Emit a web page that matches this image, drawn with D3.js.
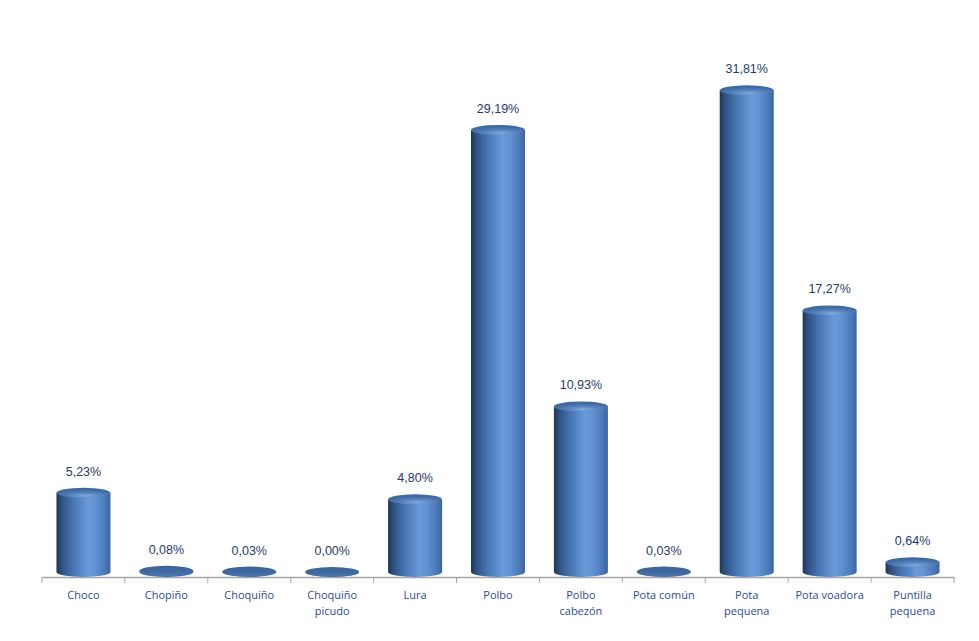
<!DOCTYPE html>
<html><head><meta charset="utf-8">
<script src="https://cdn.jsdelivr.net/npm/d3@7"></script>
<style>html,body{margin:0;padding:0;background:#fff;}svg{display:block;}</style>
</head><body>
<script>
const categories = ["Choco","Chopiño","Choquiño","Choquiño picudo","Lura","Polbo","Polbo cabezón","Pota común","Pota pequena","Pota voadora","Puntilla pequena"];
const values = [5.23, 0.08, 0.03, 0.00, 4.80, 29.19, 10.93, 0.03, 31.81, 17.27, 0.64];
const valueLabels = ["5,23%","0,08%","0,03%","0,00%","4,80%","29,19%","10,93%","0,03%","31,81%","17,27%","0,64%"];
const wrapped = [false,false,false,true,false,false,true,false,true,false,true];
const yDomain = [0, 35];

const W = 979, H = 641;
const svg = d3.select("body").append("svg").attr("width", W).attr("height", H);
const defs = svg.append("defs");

const bodyGrad = defs.append("linearGradient").attr("id","body").attr("x1","0").attr("x2","1").attr("y1","0").attr("y2","0");
[[0,"#1e3659"],[0.1,"#2f5283"],[0.3,"#4774b2"],[0.58,"#6a9ad9"],[0.72,"#6192d4"],[0.9,"#4b78b8"],[1,"#3a64a0"]]
  .forEach(([o,c])=>bodyGrad.append("stop").attr("offset",o).attr("stop-color",c));
const topGrad = defs.append("radialGradient").attr("id","topg").attr("cx","0.55").attr("cy","0.8").attr("r","0.6");
[[0,"#82aae0"],[0.45,"#5a86c2"],[1,"#40699f"]].forEach(([o,c])=>topGrad.append("stop").attr("offset",o).attr("stop-color",c));
const diskGrad = defs.append("linearGradient").attr("id","disk").attr("x1","0").attr("x2","0").attr("y1","0").attr("y2","1");
[[0,"#3d6499"],[0.6,"#40699f"],[1,"#4c79ba"]].forEach(([o,c])=>diskGrad.append("stop").attr("offset",o).attr("stop-color",c));

const x = d3.scaleBand().domain(categories).range([42, 954]).paddingInner(0).paddingOuter(0);
const y = d3.scaleLinear().domain(yDomain).range([572, 42]);
const axisY = 577;
const rx = 27, ry = 5;

// axis
const ax = svg.append("g").attr("transform",`translate(0,${axisY})`)
  .call(d3.axisBottom(x).tickSize(0).tickFormat(""));
ax.select(".domain").attr("stroke","#a6a6a6").attr("stroke-width",1.5);
const tickPos = d3.range(categories.length+1).map(i => 42 + i*x.step());
svg.append("g").selectAll("line").data(tickPos).join("line")
  .attr("x1",d=>d).attr("x2",d=>d).attr("y1",axisY).attr("y2",axisY+6)
  .attr("stroke","#a6a6a6").attr("stroke-width",1);

const data = categories.map((c,i)=>({c, v:values[i], lab:valueLabels[i], w:wrapped[i]}));
const g = svg.append("g");
data.forEach(d=>{
  const cx = x(d.c) + x.bandwidth()/2;
  const yb = y(0), yt = y(d.v);
  if (yb - yt > 1.5) {
    g.append("path")
      .attr("d", `M${cx-rx},${yt} L${cx-rx},${yb} A${rx},${ry} 0 0 0 ${cx+rx},${yb} L${cx+rx},${yt} Z`)
      .attr("fill","url(#body)");
    g.append("ellipse").attr("cx",cx).attr("cy",yt).attr("rx",rx).attr("ry",ry).attr("fill","url(#topg)");
  } else {
    g.append("path")
      .attr("d", `M${cx-rx},${yt} L${cx-rx},${yb} A${rx},${ry} 0 0 0 ${cx+rx},${yb} L${cx+rx},${yt} Z`)
      .attr("fill","#3f69a4");
    g.append("ellipse").attr("cx",cx).attr("cy",yt).attr("rx",rx).attr("ry",ry).attr("fill","url(#disk)");
  }
  svg.append("text").attr("x",cx).attr("y",yt-17).attr("text-anchor","middle")
    .attr("font-family","Liberation Sans, Arial, sans-serif").attr("font-size",12.5)
    .attr("fill","#1f3a6e").text(d.lab);
  const lines = d.w ? [d.c.slice(0,d.c.indexOf(" ")), d.c.slice(d.c.indexOf(" ")+1)] : [d.c];
  const t = svg.append("text").attr("text-anchor","middle")
    .attr("font-family","'Open Sans', Lato, sans-serif").attr("font-size",11)
    .attr("fill","#2d4a96");
  lines.forEach((l,k)=>t.append("tspan").attr("x",cx).attr("y",599+k*16).text(l));
});
</script>
</body></html>
